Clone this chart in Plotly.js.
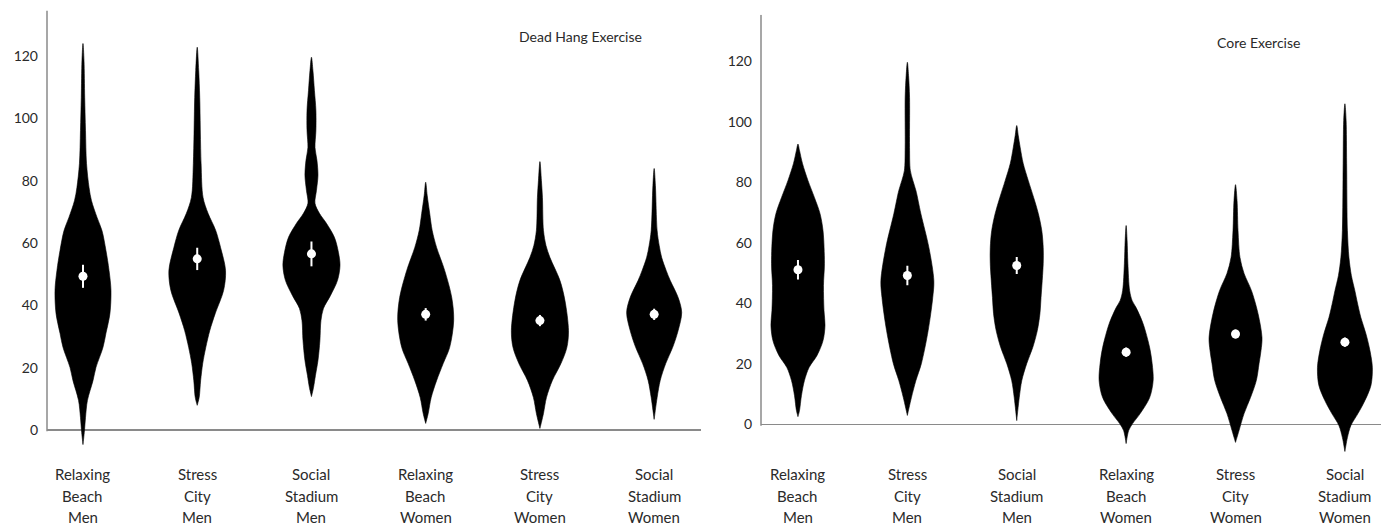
<!DOCTYPE html>
<html>
<head>
<meta charset="utf-8">
<script src="https://cdn.plot.ly/plotly-3.0.1.min.js"></script>
<style>html,body{margin:0;padding:0;background:#fff;}#chart{width:1381px;height:526px;}</style>
</head>
<body>
<div id="chart"></div>
<script>
// ---- Data ----
const categories = ['Relaxing Beach Men','Stress City Men','Social Stadium Men',
                    'Relaxing Beach Women','Stress City Women','Social Stadium Women'];
const yTicks = [0,20,40,60,80,100,120];

// Dead Hang: violin outlines (levels in seconds, half-widths in category units)
const deadHangLevels = [
  [124.0,118.5,106.7,96.1,85.5,77.8,73.6,68.2,64.0,57.6,51.2,44.8,37.4,31.0,26.5,20.1,15.9,9.5,4.0,-0.2,-4.7],
  [122.8,115.3,106.7,85.5,74.6,69.5,64.1,58.6,51.2,44.8,37.4,31.9,26.5,21.3,15.9,10.4,7.9],
  [119.6,115.3,108.9,102.5,96.1,90.6,86.5,81.7,76.9,72.7,69.5,66.3,61.8,57.0,52.8,48.0,43.1,39.0,35.1,28.7,22.3,17.5,13.6,10.7],
  [79.5,75.3,69.5,64.0,58.5,51.2,42.5,35.1,26.5,21.3,15.9,10.4,5.3,2.1],
  [86.1,80.0,74.6,64.0,59.2,55.3,48.0,41.5,31.9,26.5,21.3,15.9,10.4,5.3,0.5],
  [83.9,78.4,64.0,59.2,55.3,51.2,48.0,42.5,37.7,31.9,26.5,21.3,15.9,10.4,3.4]
];
const deadHangWidths = [
  [0,0.009,0.015,0.022,0.031,0.053,0.074,0.123,0.166,0.201,0.228,0.245,0.236,0.201,0.175,0.114,0.088,0.039,0.022,0.013,0],
  [0,0.013,0.022,0.034,0.051,0.095,0.161,0.204,0.248,0.231,0.158,0.110,0.075,0.048,0.030,0.017,0],
  [0,0.013,0.026,0.039,0.039,0.031,0.048,0.057,0.044,0.031,0.070,0.131,0.201,0.236,0.250,0.228,0.166,0.105,0.083,0.074,0.057,0.035,0.018,0],
  [0,0.013,0.035,0.057,0.096,0.166,0.228,0.245,0.210,0.153,0.096,0.048,0.022,0],
  [0,0.013,0.022,0.031,0.053,0.088,0.175,0.219,0.250,0.236,0.184,0.109,0.057,0.031,0],
  [0,0.011,0.026,0.044,0.066,0.105,0.140,0.210,0.241,0.210,0.162,0.101,0.053,0.026,0]
];
const deadHangMeans = [49.3,54.9,56.5,37.1,35.1,37.1];
const deadHangErr   = [3.7,3.6,4.0,2.0,1.8,1.8];

// Core: violin outlines
const coreLevels = [
  [92.6,90.5,86.2,80.6,74.9,69.7,64.0,53.2,45.9,37.6,32.7,27.7,22.8,18.8,14.5,9.6,4.6,2.6],
  [119.6,115.2,108.0,91.4,83.9,80.6,77.3,69.7,58.4,47.5,41.9,31.0,20.1,14.5,8.9,3.0],
  [98.7,95.4,91.4,86.2,80.6,74.9,69.7,64.0,58.4,53.2,41.9,36.6,31.0,25.4,20.1,14.5,8.9,1.3],
  [65.7,60.7,53.2,44.2,40.9,38.6,33.3,25.4,20.1,14.5,8.9,3.6,0.3,-2.0,-6.3],
  [79.2,73.9,64.0,55.1,49.9,44.2,36.6,28.7,24.4,20.1,14.5,8.9,3.6,-2.0,-5.9],
  [105.9,100.4,86.2,64.0,55.1,49.2,44.2,40.9,35.3,30.0,24.4,18.8,12.9,7.9,3.6,-0.3,-4.3,-8.9]
];
const coreWidths = [
  [0,0.014,0.041,0.091,0.151,0.201,0.229,0.242,0.233,0.238,0.247,0.229,0.174,0.101,0.059,0.032,0.014,0],
  [0,0.011,0.020,0.020,0.027,0.050,0.078,0.123,0.197,0.242,0.232,0.190,0.128,0.078,0.037,0],
  [0,0.014,0.032,0.059,0.105,0.155,0.197,0.229,0.242,0.242,0.222,0.212,0.188,0.146,0.091,0.046,0.023,0],
  [0,0.009,0.016,0.032,0.055,0.091,0.155,0.215,0.238,0.247,0.215,0.128,0.059,0.023,0],
  [0,0.014,0.023,0.041,0.078,0.146,0.206,0.242,0.233,0.215,0.190,0.137,0.078,0.032,0],
  [0,0.011,0.016,0.023,0.037,0.059,0.091,0.110,0.146,0.192,0.229,0.251,0.238,0.183,0.119,0.055,0.023,0]
];
const coreMeans = [51.1,49.2,52.5,23.9,29.9,27.2];
const coreErr   = [3.2,3.2,2.8,1.5,1.5,1.5];

const panelTitles = ['Dead Hang Exercise','Core Exercise'];

// ---- Build figure ----
const W = 1381, H = 526;
const TXT = '#2a2a2a', AX = '#8a8a8a';
const FONT = 'Lato, "Open Sans", sans-serif';

function violinTraces(levels, widths, means, errs, xa, ya) {
  const tr = [];
  levels.forEach((lv, i) => {
    const hw = widths[i];
    const xs = [], ys = [];
    for (let k = 0; k < lv.length; k++) { xs.push(i + hw[k]); ys.push(lv[k]); }
    for (let k = lv.length - 1; k >= 0; k--) { xs.push(i - hw[k]); ys.push(lv[k]); }
    tr.push({type:'scatter', mode:'lines', x:xs, y:ys, xaxis:xa, yaxis:ya,
      fill:'toself', fillcolor:'#000', line:{color:'#000', width:0.6, shape:'spline', smoothing:0.9},
      hoverinfo:'skip', showlegend:false});
  });
  tr.push({type:'scatter', mode:'markers', x:means.map((_, i) => i), y:means, xaxis:xa, yaxis:ya,
    marker:{color:'#fff', size:9}, error_y:{type:'data', array:errs, visible:true, color:'#fff', thickness:2, width:0},
    showlegend:false, hoverinfo:'skip'});
  return tr;
}

const data = [
  ...violinTraces(deadHangLevels, deadHangWidths, deadHangMeans, deadHangErr, 'x', 'y'),
  ...violinTraces(coreLevels, coreWidths, coreMeans, coreErr, 'x2', 'y2')
];

const yRange1 = [-5.5, 134.6], yRange2 = [-9.6, 135.3];
const yAxisCommon = {
  tickvals: yTicks, ticktext: yTicks.map(String), showgrid:false, showline:false,
  zeroline:true, zerolinecolor:AX, zerolinewidth:1.5, ticks:'', ticklabelstandoff:8,
  tickfont:{family:FONT, size:14, color:TXT}, fixedrange:true
};
const xAxisCommon = {showgrid:false, zeroline:false, showline:false, showticklabels:false, ticks:''};

const annotations = [];
const lineY = [474, 495.5, 516.5];
['x','x2'].forEach(xr => {
  categories.forEach((c, i) => {
    c.split(' ').forEach((w, j) => {
      annotations.push({xref:xr, yref:'paper', x:i, y:1 - lineY[j]/H, text:w, showarrow:false,
        xanchor:'center', yanchor:'middle', font:{family:FONT, size:15, color:TXT}});
    });
  });
});
annotations.push({xref:'paper', yref:'paper', x:580/W, y:1-37/H, text:panelTitles[0], showarrow:false,
  xanchor:'center', yanchor:'middle', font:{family:FONT, size:14, color:TXT}});
annotations.push({xref:'paper', yref:'paper', x:1258/W, y:1-43/H, text:panelTitles[1], showarrow:false,
  xanchor:'center', yanchor:'middle', font:{family:FONT, size:14, color:TXT}});

const layout = {
  width:W, height:H, margin:{l:0, r:0, t:0, b:0, pad:0},
  paper_bgcolor:'#fff', plot_bgcolor:'rgba(0,0,0,0)', showlegend:false,
  font:{family:FONT, color:TXT},
  xaxis: Object.assign({}, xAxisCommon, {domain:[47/W, 701/W], range:[-0.315, 5.41]}),
  yaxis: Object.assign({}, yAxisCommon, {domain:[1-447.1/H, 1-10.45/H], range:yRange1, anchor:'x'}),
  xaxis2: Object.assign({}, xAxisCommon, {domain:[761/W, 1], range:[-0.338, 5.33], anchor:'y2'}),
  yaxis2: Object.assign({}, yAxisCommon, {domain:[1-453.6/H, 1-14.7/H], range:yRange2, anchor:'x2'}),
  shapes: [
    {type:'line', xref:'x domain', yref:'y', x0:0, x1:0, y0:-0.4, y1:yRange1[1], line:{color:AX, width:1.5}, layer:'below'},
    {type:'line', xref:'x2 domain', yref:'y2', x0:0, x1:0, y0:-0.4, y1:yRange2[1], line:{color:AX, width:1.5}, layer:'below'}
  ],
  annotations: annotations
};

Plotly.newPlot('chart', data, layout, {displayModeBar:false, staticPlot:true});
</script>
</body>
</html>
